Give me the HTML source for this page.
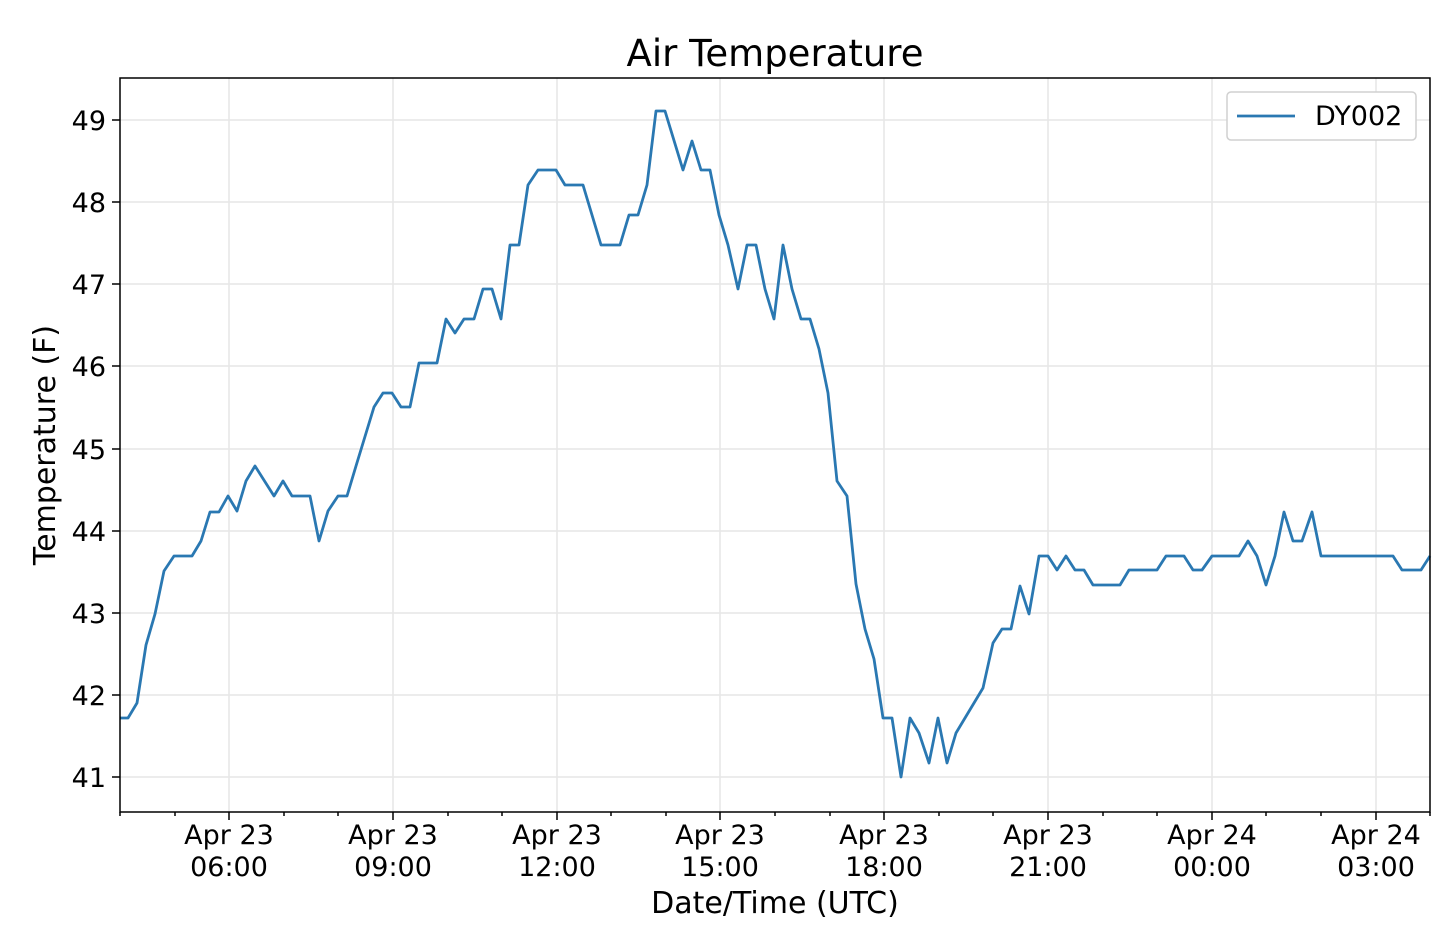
<!DOCTYPE html>
<html><head><meta charset="utf-8"><style>
html,body{margin:0;padding:0;background:#fff;}
svg{display:block;font-family:"DejaVu Sans","Liberation Sans",sans-serif;}
</style></head><body>
<svg width="1440" height="928" viewBox="0 0 1440 928" xmlns="http://www.w3.org/2000/svg">
<rect width="1440" height="928" fill="#fff"/>
<g stroke="#e6e6e6" stroke-width="1.5">
<line x1="120" y1="120" x2="1430" y2="120"/>
<line x1="120" y1="202" x2="1430" y2="202"/>
<line x1="120" y1="284" x2="1430" y2="284"/>
<line x1="120" y1="366" x2="1430" y2="366"/>
<line x1="120" y1="449" x2="1430" y2="449"/>
<line x1="120" y1="531" x2="1430" y2="531"/>
<line x1="120" y1="613" x2="1430" y2="613"/>
<line x1="120" y1="695" x2="1430" y2="695"/>
<line x1="120" y1="777" x2="1430" y2="777"/>
<line x1="229" y1="78" x2="229" y2="812"/>
<line x1="393" y1="78" x2="393" y2="812"/>
<line x1="557" y1="78" x2="557" y2="812"/>
<line x1="720" y1="78" x2="720" y2="812"/>
<line x1="884" y1="78" x2="884" y2="812"/>
<line x1="1048" y1="78" x2="1048" y2="812"/>
<line x1="1212" y1="78" x2="1212" y2="812"/>
<line x1="1376" y1="78" x2="1376" y2="812"/>
</g>
<polyline fill="none" stroke="#2a78b2" stroke-width="2.8" stroke-linejoin="round" points="120,718 128,718 137,703 146,645 155,614 164,571 174,556 192,556 201,541 210,512 219,512 228,496 237,511 246,481 255,466 274,496 283,481 292,496 310,496 319,541 328,511 338,496 347,496 356,466 374,407 383,393 392,393 401,407 410,407 419,363 437,363 446,319 455,333 464,319 474,319 483,289 492,289 501,319 510,245 519,245 528,185 538,170 556,170 565,185 583,185 601,245 620,245 629,215 638,215 647,185 656,111 665,111 683,170 692,141 701,170 710,170 719,215 728,245 738,289 747,245 756,245 765,289 774,319 783,245 792,289 801,319 810,319 819,349 828,393 837,481 847,496 856,584 865,629 874,659 883,718 892,718 901,777 910,718 919,733 929,763 938,718 947,763 956,733 965,718 974,703 983,688 993,643 1002,629 1011,629 1020,586 1029,614 1039,556 1048,556 1057,570 1066,556 1075,570 1084,570 1093,585 1120,585 1129,570 1157,570 1166,556 1184,556 1193,570 1202,570 1212,556 1239,556 1248,541 1257,556 1266,585 1275,556 1284,512 1293,541 1302,541 1312,512 1321,556 1393,556 1402,570 1421,570 1430,556"/>
<rect x="120" y="78" width="1310" height="734" fill="none" stroke="#000" stroke-width="1.5"/>
<g stroke="#000" stroke-width="1.5">
<line x1="112" y1="120" x2="120" y2="120"/><line x1="112" y1="202" x2="120" y2="202"/><line x1="112" y1="284" x2="120" y2="284"/><line x1="112" y1="366" x2="120" y2="366"/><line x1="112" y1="449" x2="120" y2="449"/><line x1="112" y1="531" x2="120" y2="531"/><line x1="112" y1="613" x2="120" y2="613"/><line x1="112" y1="695" x2="120" y2="695"/><line x1="112" y1="777" x2="120" y2="777"/>
<line x1="229" y1="812" x2="229" y2="820"/><line x1="393" y1="812" x2="393" y2="820"/><line x1="557" y1="812" x2="557" y2="820"/><line x1="720" y1="812" x2="720" y2="820"/><line x1="884" y1="812" x2="884" y2="820"/><line x1="1048" y1="812" x2="1048" y2="820"/><line x1="1212" y1="812" x2="1212" y2="820"/><line x1="1376" y1="812" x2="1376" y2="820"/>
<line x1="120" y1="812" x2="120" y2="816"/><line x1="175" y1="812" x2="175" y2="816"/><line x1="284" y1="812" x2="284" y2="816"/><line x1="338" y1="812" x2="338" y2="816"/><line x1="448" y1="812" x2="448" y2="816"/><line x1="502" y1="812" x2="502" y2="816"/><line x1="611" y1="812" x2="611" y2="816"/><line x1="666" y1="812" x2="666" y2="816"/><line x1="775" y1="812" x2="775" y2="816"/><line x1="830" y1="812" x2="830" y2="816"/><line x1="939" y1="812" x2="939" y2="816"/><line x1="993" y1="812" x2="993" y2="816"/><line x1="1103" y1="812" x2="1103" y2="816"/><line x1="1157" y1="812" x2="1157" y2="816"/><line x1="1266" y1="812" x2="1266" y2="816"/><line x1="1321" y1="812" x2="1321" y2="816"/><line x1="1430" y1="812" x2="1430" y2="816"/>
</g>
<g font-size="27" fill="#000" text-anchor="end">
<text x="106" y="130">49</text><text x="106" y="212">48</text><text x="106" y="294">47</text><text x="106" y="376">46</text><text x="106" y="459">45</text><text x="106" y="541">44</text><text x="106" y="623">43</text><text x="106" y="705">42</text><text x="106" y="787">41</text>
</g>
<g font-size="27" fill="#000" text-anchor="middle">
<text x="229" y="844">Apr 23</text><text x="229" y="876">06:00</text>
<text x="393" y="844">Apr 23</text><text x="393" y="876">09:00</text>
<text x="557" y="844">Apr 23</text><text x="557" y="876">12:00</text>
<text x="720" y="844">Apr 23</text><text x="720" y="876">15:00</text>
<text x="884" y="844">Apr 23</text><text x="884" y="876">18:00</text>
<text x="1048" y="844">Apr 23</text><text x="1048" y="876">21:00</text>
<text x="1212" y="844">Apr 24</text><text x="1212" y="876">00:00</text>
<text x="1376" y="844">Apr 24</text><text x="1376" y="876">03:00</text>
<text x="775" y="913" font-size="30">Date/Time (UTC)</text>
<text x="775" y="66" font-size="37">Air Temperature</text>
<text transform="translate(55,445) rotate(-90)" font-size="30">Temperature (F)</text>
</g>
<rect x="1227" y="92" width="189" height="48" rx="4" fill="#fff" stroke="#d0d0d0" stroke-width="1.5"/>
<line x1="1237" y1="116" x2="1295" y2="116" stroke="#2a78b2" stroke-width="2.8"/>
<text x="1315" y="125" font-size="27">DY002</text>
</svg>
</body></html>
